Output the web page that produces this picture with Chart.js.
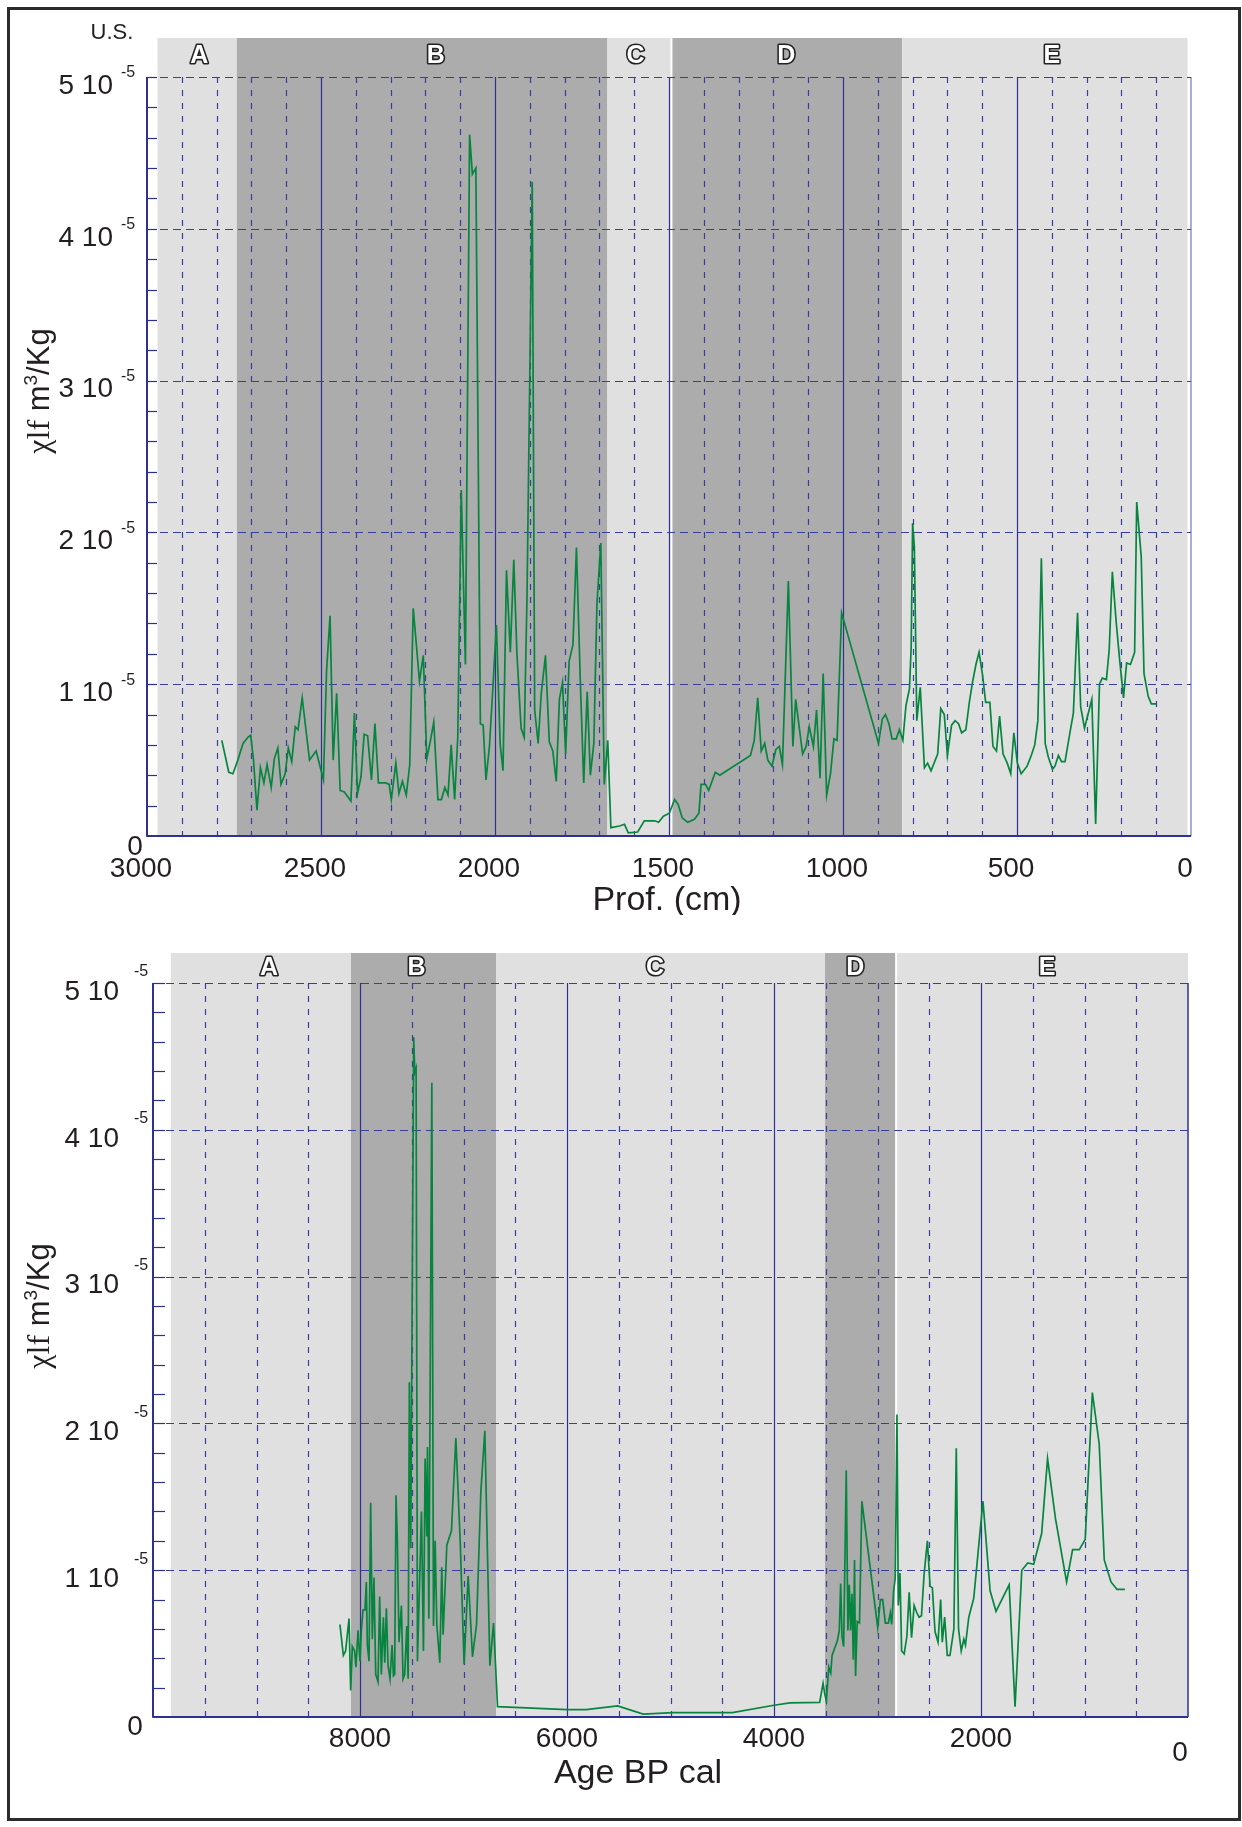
<!DOCTYPE html>
<html>
<head>
<meta charset="utf-8">
<title>χlf vs depth and age</title>
<script src="https://cdn.jsdelivr.net/npm/chart.js@4.4.1/dist/chart.umd.min.js"></script>
<style>
  body { margin: 0; background: #fff; }
  #page { position: relative; width: 1242px; height: 1827px; overflow: hidden; background: #fff; }
  #frame { position: absolute; left: 7px; top: 7px; width: 1228px; height: 1808px; border: 3px solid #2b2b2b; }
  canvas { position: absolute; left: 0; }
</style>
</head>
<body>
<div id="page">
  <canvas id="depthChart" width="1242" height="915" style="top:0"></canvas>
  <canvas id="ageChart" width="1242" height="912" style="top:915px"></canvas>
  <div id="frame"></div>
</div>
<script>
const SANS = "'Liberation Sans', Arial, sans-serif";
const SERIF = "'Liberation Serif', 'Times New Roman', serif";
const INK = '#231f20';
const NAVY = '#2e3192';
const GREEN = '#06853f';

// upper panel: chi (x 10^-5 m3/kg) against depth (cm)
const depthCm = [
  2785, 2765, 2753, 2739, 2724, 2710, 2702, 2694, 2684, 2674, 2664, 2655, 2643, 2634, 2624, 2615,
  2603, 2594, 2584, 2574, 2566, 2554, 2533, 2514, 2493, 2484, 2474, 2465, 2455, 2445, 2433, 2414,
  2404, 2395, 2385, 2376, 2366, 2355, 2345, 2335, 2314, 2304, 2298, 2285, 2276, 2266, 2255, 2245,
  2235, 2217, 2206, 2196, 2187, 2176, 2164, 2154, 2144, 2135, 2126, 2116, 2107, 2097, 2085, 2073,
  2065, 2055, 2042, 2034, 2026, 2016, 2006, 1996, 1985, 1977, 1967, 1956, 1946, 1937, 1925, 1916,
  1908, 1893, 1886, 1876, 1867, 1855, 1844, 1834, 1824, 1815, 1806, 1797, 1787, 1776, 1766, 1755,
  1745, 1735, 1726, 1716, 1707, 1696, 1686, 1676, 1667, 1642, 1628, 1617, 1590, 1571, 1541, 1530,
  1516, 1499, 1484, 1474, 1462, 1446, 1427, 1414, 1408, 1395, 1386, 1367, 1354, 1266, 1255, 1245,
  1235, 1225, 1216, 1204, 1193, 1183, 1174, 1157, 1144, 1136, 1116, 1106, 1097, 1085, 1076, 1066,
  1057, 1047, 1036, 1026, 1017, 1004, 898, 887, 878, 868, 859, 847, 838, 828, 819, 809,
  804, 800, 795, 788, 778, 766, 757, 747, 728, 719, 709, 700, 688, 678, 668, 659,
  647, 637, 628, 618, 609, 599, 590, 578, 569, 559, 550, 540, 528, 518, 509, 499,
  488, 471, 459, 449, 440, 430, 419, 410, 398, 391, 381, 372, 362, 348, 338, 326,
  317, 306, 285, 274, 263, 255, 243, 235, 226, 215, 205, 194, 185, 174, 162, 156,
  143, 135, 123, 114, 100
];
const chiDepth = [
  0.63, 0.42, 0.41, 0.50, 0.61, 0.65, 0.665, 0.50, 0.17, 0.45, 0.35, 0.47, 0.32, 0.51, 0.58, 0.34,
  0.41, 0.58, 0.49, 0.72, 0.70, 0.91, 0.50, 0.56, 0.37, 1.09, 1.45, 0.50, 0.94, 0.30, 0.29, 0.23,
  0.81, 0.28, 0.39, 0.67, 0.66, 0.37, 0.74, 0.35, 0.35, 0.34, 0.24, 0.48, 0.28, 0.36, 0.27, 0.47,
  1.50, 1.02, 1.19, 0.51, 0.61, 0.75, 0.24, 0.24, 0.32, 0.27, 0.60, 0.24, 0.65, 2.28, 1.13, 4.62,
  4.36, 4.40, 0.74, 0.73, 0.37, 0.59, 0.98, 1.39, 0.60, 0.43, 1.75, 1.21, 1.82, 1.20, 0.71, 0.65,
  1.58, 4.31, 0.83, 0.61, 0.94, 1.19, 0.62, 0.56, 0.36, 0.90, 1.01, 0.54, 1.15, 1.26, 1.90, 1.03,
  0.35, 0.95, 0.40, 0.61, 1.53, 1.93, 0.34, 0.63, 0.055, 0.066, 0.077, 0.02, 0.026, 0.10, 0.10, 0.09,
  0.13, 0.15, 0.24, 0.21, 0.12, 0.09, 0.11, 0.15, 0.34, 0.34, 0.30, 0.42, 0.40, 0.53, 0.63, 0.91,
  0.56, 0.61, 0.50, 0.46, 0.57, 0.59, 0.47, 1.68, 0.59, 0.90, 0.54, 0.59, 0.72, 0.59, 0.83, 0.38,
  1.07, 0.27, 0.41, 0.64, 0.63, 1.47, 0.61, 0.77, 0.80, 0.74, 0.64, 0.64, 0.70, 0.63, 0.86, 0.97,
  1.25, 2.06, 1.91, 0.76, 0.98, 0.45, 0.48, 0.43, 0.54, 0.84, 0.80, 0.53, 0.73, 0.76, 0.74, 0.68,
  0.70, 0.88, 1.01, 1.13, 1.21, 1.06, 0.88, 0.88, 0.59, 0.56, 0.79, 0.54, 0.48, 0.41, 0.68, 0.48,
  0.41, 0.46, 0.53, 0.60, 0.76, 1.83, 0.61, 0.52, 0.44, 0.46, 0.53, 0.49, 0.49, 0.68, 0.81, 1.47,
  0.85, 0.71, 0.90, 0.08, 1.00, 1.04, 1.03, 1.23, 1.74, 1.41, 1.16, 0.91, 1.14, 1.13, 1.21, 2.20,
  1.84, 1.07, 0.92, 0.87, 0.87
];
const depthZoneEdges = [2970, 2742, 1677, 1493, 830, 10];
const depthZoneLabelAt = [2850, 2170, 1596, 1163, 400];
const depthTicks = [3000, 2500, 2000, 1500, 1000, 500, 0];

// lower panel: the same record against calibrated age (yr BP)
const ageBP = [
  8194, 8161, 8139, 8106, 8090, 8074, 8052, 8039, 8019, 8000, 7987, 7971, 7952, 7939, 7929, 7913,
  7897, 7881, 7865, 7848, 7826, 7810, 7794, 7774, 7761, 7745, 7729, 7710, 7690, 7677, 7665, 7652,
  7639, 7623, 7600, 7584, 7568, 7548, 7535, 7523, 7510, 7481, 7471, 7458, 7445, 7406, 7387, 7371,
  7355, 7348, 7335, 7306, 7290, 7274, 7258, 7229, 7210, 7197, 7161, 7116, 7074, 7032, 6994, 6955,
  6913, 6874, 6832, 6794, 6745, 6710, 6671, 6000, 5817, 5511, 5264, 4977, 4402, 4000, 3847, 3559,
  3526, 3510, 3494, 3471, 3452, 3439, 3388, 3369, 3356, 3343, 3327, 3302, 3286, 3273, 3260, 3247,
  3234, 3222, 3212, 3196, 3174, 3151, 2998, 2972, 2950, 2924, 2895, 2876, 2863, 2844, 2828, 2812,
  2799, 2783, 2767, 2742, 2716, 2694, 2671, 2646, 2620, 2598, 2575, 2550, 2518, 2492, 2470, 2444,
  2415, 2390, 2374, 2351, 2326, 2300, 2262, 2239, 2217, 2191, 2166, 2150, 2118, 2070, 1981, 1912,
  1855, 1728, 1671, 1606, 1548, 1491, 1414, 1357, 1280, 1173, 1115, 1050, 993, 924, 858, 809,
  744, 686, 610
];
const chiAge = [
  0.63, 0.42, 0.45, 0.67, 0.18, 0.48, 0.45, 0.34, 0.59, 0.38, 0.59, 0.73, 0.73, 0.92, 0.49, 0.38,
  1.46, 0.53, 0.95, 0.29, 0.24, 0.82, 0.29, 0.68, 0.37, 0.74, 0.35, 0.26, 0.49, 0.28, 0.29, 1.51,
  1.20, 0.51, 0.76, 0.26, 0.29, 0.62, 0.26, 2.28, 1.15, 4.63, 4.39, 4.42, 0.38, 1.40, 0.45, 1.76,
  1.23, 1.84, 0.67, 4.32, 0.62, 1.20, 0.63, 0.37, 1.02, 0.56, 1.17, 1.27, 1.90, 1.20, 0.36, 0.96,
  0.41, 0.63, 1.54, 1.95, 0.35, 0.64, 0.07, 0.05, 0.05, 0.075, 0.02, 0.03, 0.03, 0.08, 0.096, 0.10,
  0.23, 0.16, 0.11, 0.34, 0.30, 0.42, 0.52, 0.59, 0.91, 0.55, 0.48, 1.68, 0.59, 0.90, 0.59, 0.84,
  0.39, 1.07, 0.28, 0.65, 0.64, 1.47, 0.61, 0.80, 0.80, 0.64, 0.64, 0.71, 0.63, 0.86, 0.95, 2.06,
  0.76, 0.98, 0.45, 0.43, 0.55, 0.85, 0.54, 0.76, 0.71, 0.68, 0.69, 0.97, 1.20, 0.89, 0.88, 0.58,
  0.51, 0.80, 0.51, 0.68, 0.42, 0.42, 0.60, 1.83, 0.60, 0.45, 0.53, 0.49, 0.68, 0.81, 1.47, 0.86,
  0.72, 0.90, 0.07, 1.00, 1.05, 1.04, 1.25, 1.76, 1.35, 0.92, 1.14, 1.14, 1.21, 2.21, 1.86, 1.07,
  0.92, 0.87, 0.87
];
const ageZoneEdges = [9828, 8087, 6685, 3507, 2820, 0];
const ageZoneLabelAt = [8880, 7455, 5150, 3215, 1362];
const ageTicks = [8000, 6000, 4000, 2000];

const zoneNames = ['A', 'B', 'C', 'D', 'E'];
const zoneShade = ['#e0e0e0', '#acacac', '#e0e0e0', '#acacac', '#e0e0e0'];
const yTicks = [1, 2, 3, 4, 5]; // in units of 10^-5

const panelPlugin = {
  id: 'panel',
  beforeDraw(chart, args, o) {
    const { ctx, chartArea: a, scales: { x, y } } = chart;
    ctx.save();

    // zone bands
    for (let i = 0; i < o.edges.length - 1; i++) {
      const x0 = x.getPixelForValue(o.edges[i]);
      const x1 = x.getPixelForValue(o.edges[i + 1]);
      ctx.fillStyle = zoneShade[i];
      ctx.fillRect(x0, o.bandTop, x1 - x0, a.bottom - o.bandTop);
    }
    if (o.seamAt != null) {
      ctx.fillStyle = '#ffffff';
      ctx.fillRect(x.getPixelForValue(o.seamAt) - 1, o.bandTop, 2, a.bottom - o.bandTop);
    }

    // zone letters, outlined
    ctx.font = `bold 25px ${SANS}`;
    ctx.textAlign = 'center';
    ctx.textBaseline = 'middle';
    ctx.lineJoin = 'round';
    o.labelAt.forEach((v, i) => {
      const px = x.getPixelForValue(v);
      ctx.strokeStyle = '#222';
      ctx.lineWidth = 3.2;
      ctx.strokeText(zoneNames[i], px, o.letterY);
      ctx.fillStyle = '#fff';
      ctx.fillText(zoneNames[i], px, o.letterY);
    });

    // vertical grid
    ctx.lineWidth = 1.2;
    for (let v = o.gridStep; v < o.xMax; v += o.gridStep) {
      const px = Math.round(x.getPixelForValue(v)) + 0.5;
      const solid = v % o.solidStep === 0;
      ctx.strokeStyle = solid ? NAVY : '#3a3d9e';
      ctx.setLineDash(solid ? [] : [6, 7]);
      ctx.beginPath();
      ctx.moveTo(px, a.top);
      ctx.lineTo(px, a.bottom);
      ctx.stroke();
    }
    // right edge at zero
    ctx.setLineDash([]);
    ctx.strokeStyle = o.rightColor;
    ctx.lineWidth = 1.5;
    ctx.beginPath();
    ctx.moveTo(a.right, a.top);
    ctx.lineTo(a.right, a.bottom);
    ctx.stroke();

    // horizontal grid
    ctx.strokeStyle = '#3a3d9e';
    ctx.lineWidth = 1.2;
    ctx.setLineDash([8, 5]);
    yTicks.forEach(v => {
      const py = Math.round(y.getPixelForValue(v)) + 0.5;
      ctx.beginPath();
      ctx.moveTo(a.left, py);
      ctx.lineTo(a.right, py);
      ctx.stroke();
    });
    ctx.setLineDash([]);

    // inward minor ticks on the value axis
    ctx.strokeStyle = NAVY;
    ctx.lineWidth = 1.2;
    for (let k = 1; k <= 25; k++) {
      const py = Math.round(y.getPixelForValue(k * 0.2)) + 0.5;
      ctx.beginPath();
      ctx.moveTo(a.left, py);
      ctx.lineTo(a.left + o.minorLen, py);
      ctx.stroke();
    }

    // axes
    ctx.lineWidth = 2;
    ctx.beginPath();
    ctx.moveTo(a.left, a.top);
    ctx.lineTo(a.left, a.bottom);
    ctx.lineTo(a.right, a.bottom);
    ctx.stroke();

    // value labels: "n 10" with superscript -5
    ctx.fillStyle = INK;
    yTicks.forEach(v => {
      const py = y.getPixelForValue(v);
      ctx.font = `28px ${SANS}`;
      ctx.textAlign = 'right';
      ctx.textBaseline = 'middle';
      ctx.fillText(`${v} 10`, o.labRight, py + o.labDy);
      ctx.font = `16px ${SANS}`;
      ctx.textAlign = 'left';
      ctx.fillText('-5', o.supX, py + o.supDy);
    });
    ctx.font = `28px ${SANS}`;
    ctx.textAlign = 'center';
    ctx.fillText('0', o.zeroX, y.getPixelForValue(0) + o.zeroDy);

    ctx.restore();
  },
  afterDraw(chart, args, o) {
    const { ctx } = chart;
    ctx.save();
    ctx.fillStyle = INK;
    ctx.textBaseline = 'middle';
    ctx.textAlign = 'center';

    // axis title
    ctx.font = `34px ${SANS}`;
    ctx.fillText(o.xTitle, o.xTitleX, o.xTitleY);

    if (o.extraZero) {
      ctx.font = `28px ${SANS}`;
      ctx.fillText('0', o.extraZero[0], o.extraZero[1]);
    }
    if (o.corner) {
      ctx.font = `22px ${SANS}`;
      ctx.fillText(o.corner, 112, 33);
    }

    // rotated value-axis title: χlf m³/Kg
    const parts = [
      { t: 'χlf', f: `32px ${SERIF}`, dy: 0 },
      { t: ' m', f: `31px ${SANS}`, dy: 0 },
      { t: '3', f: `19px ${SANS}`, dy: -12 },
      { t: '/Kg', f: `31px ${SANS}`, dy: 0 }
    ];
    let total = 0;
    parts.forEach(p => { ctx.font = p.f; p.w = ctx.measureText(p.t).width; total += p.w; });
    ctx.translate(o.yTitleX, o.yTitleY);
    ctx.rotate(-Math.PI / 2);
    ctx.textAlign = 'left';
    ctx.textBaseline = 'alphabetic';
    let cx = -total / 2;
    parts.forEach(p => {
      ctx.font = p.f;
      ctx.fillText(p.t, cx, p.dy);
      cx += p.w;
    });
    ctx.restore();
  }
};

function makePanel(id, xs, ys, opt) {
  return new Chart(document.getElementById(id), {
    type: 'scatter',
    data: {
      datasets: [{
        data: xs.map((v, i) => ({ x: v, y: ys[i] })),
        showLine: true,
        borderColor: GREEN,
        borderWidth: 1.7,
        pointRadius: 0,
        tension: 0,
        fill: false
      }]
    },
    options: {
      responsive: false,
      animation: false,
      devicePixelRatio: 1,
      layout: { padding: opt.pad },
      plugins: {
        legend: { display: false },
        tooltip: { enabled: false },
        panel: opt.panel
      },
      scales: {
        x: {
          type: 'linear',
          reverse: true,
          min: 0,
          max: opt.panel.xMax,
          afterFit: s => { s.height = opt.xHeight; },
          afterBuildTicks: s => { s.ticks = opt.ticks.map(v => ({ value: v })); },
          grid: { display: false, drawTicks: false },
          border: { display: false },
          ticks: {
            font: { family: SANS, size: 28 },
            color: INK,
            padding: opt.tickPad,
            labelOffset: opt.labelOffset,
            maxRotation: 0,
            autoSkip: false,
            callback: v => String(v)
          }
        },
        y: { display: false, min: 0, max: 5 }
      }
    },
    plugins: [panelPlugin]
  });
}

makePanel('depthChart', depthCm, chiDepth, {
  pad: { left: 147, right: 51, top: 77, bottom: 0 },
  xHeight: 79,
  ticks: depthTicks,
  tickPad: 16,
  labelOffset: -6,
  panel: {
    xMax: 3000, gridStep: 100, solidStep: 500,
    edges: depthZoneEdges, labelAt: depthZoneLabelAt, seamAt: 1493,
    bandTop: 38, letterY: 56, minorLen: 10, rightColor: '#8c90c6',
    labRight: 113, labDy: 9, supX: 121, supDy: -4, zeroX: 135, zeroDy: 11,
    xTitle: 'Prof. (cm)', xTitleX: 667, xTitleY: 901,
    yTitleX: 49, yTitleY: 391, corner: 'U.S.'
  }
});

makePanel('ageChart', ageBP, chiAge, {
  pad: { left: 153, right: 54, top: 68, bottom: 0 },
  xHeight: 110,
  ticks: ageTicks,
  tickPad: 5,
  labelOffset: 0,
  panel: {
    xMax: 10000, gridStep: 500, solidStep: 2000,
    edges: ageZoneEdges, labelAt: ageZoneLabelAt, seamAt: 2820,
    bandTop: 38, letterY: 53, minorLen: 12, rightColor: NAVY,
    labRight: 119, labDy: 9, supX: 134, supDy: -11, zeroX: 135, zeroDy: 10,
    xTitle: 'Age BP cal', xTitleX: 638, xTitleY: 859,
    extraZero: [1180, 838],
    yTitleX: 49, yTitleY: 391
  }
});
</script>
</body>
</html>
